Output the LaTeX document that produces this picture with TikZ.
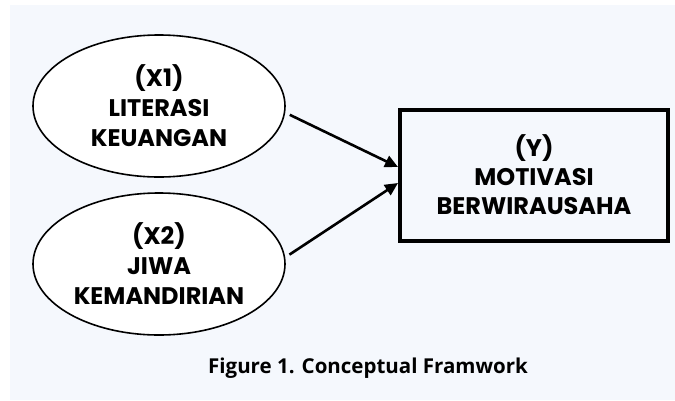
\documentclass[tikz,border=0pt]{standalone}
\usepackage{fontspec}
\setmainfont{Open Sans}
\newfontfamily\varfont{Poppins}
\usetikzlibrary{shapes.geometric,arrows.meta}
\definecolor{paper}{HTML}{F5F8FD}

\begin{document}
\begin{tikzpicture}[x=1pt,y=-1pt,
  var/.style={ellipse,draw,line width=1.6pt,fill=white,minimum width=252pt,
    minimum height=142pt,inner sep=0pt,align=center,
    font=\varfont\bfseries\fontsize{24}{30}\selectfont},
  dep/.style={rectangle,draw,line width=4pt,minimum width=268pt,
    minimum height=131pt,inner sep=0pt,align=center,
    font=\varfont\bfseries\fontsize{24}{29}\selectfont},
  arr/.style={line width=2.6pt,-{Triangle[length=13pt,width=12pt]}}]
\useasboundingbox (0,0) rectangle (675,400);
\fill[white] (0,0) rectangle (675,400);
\fill[paper] (10,5) rectangle (675,400);
\node[var] (x1) at (159,106) {(X1)\\LITERASI\\KEUANGAN};
\node[var] (x2) at (159,264) {(X2)\\JIWA\\KEMANDIRIAN};
\node[dep] (y) at (534,175) {(Y)\\MOTIVASI\\BERWIRAUSAHA};
\node[font=\bfseries\fontsize{20.5}{24}\selectfont,anchor=base] (cap) at (368,373)
  {Figure 1. Conceptual Framwork};
\path[arr]
(x1.-3) edge[shorten <=5pt] ([yshift=8pt]y.west)
(x2.3.5) edge[shorten <=5pt] ([yshift=-8pt]y.west);
\end{tikzpicture}
\end{document}
